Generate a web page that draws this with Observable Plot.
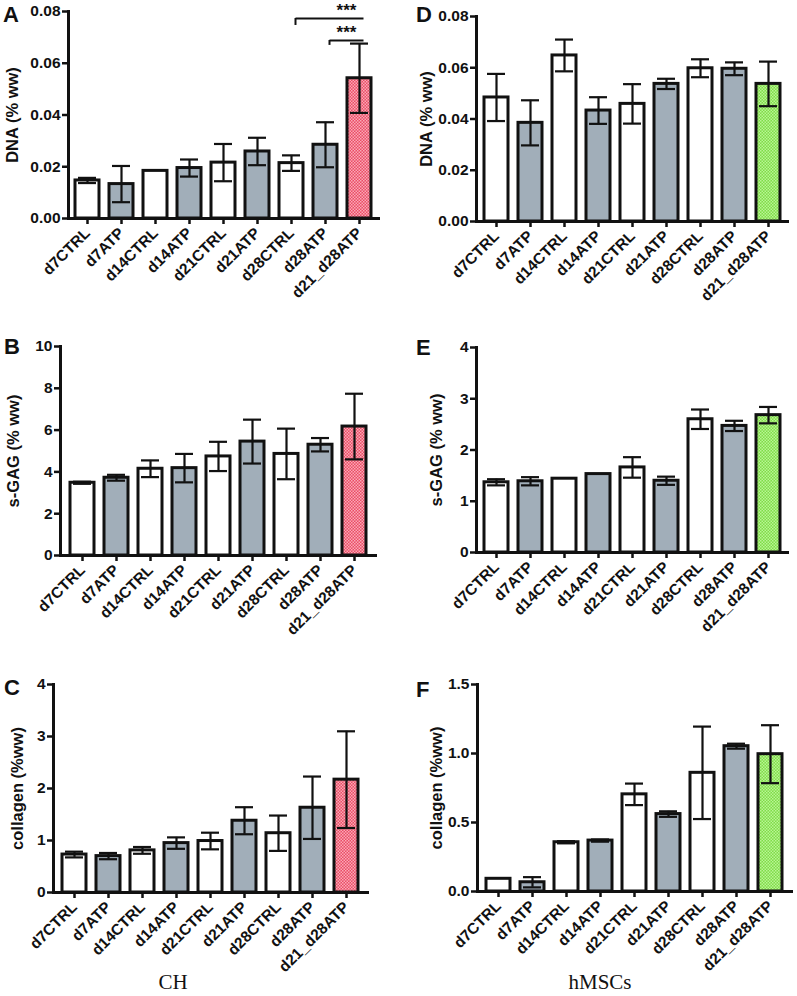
<!DOCTYPE html>
<html><head><meta charset="utf-8">
<script src="https://cdn.jsdelivr.net/npm/d3@7"></script>
<script src="https://cdn.jsdelivr.net/npm/@observablehq/plot@0.6"></script>
<style>
body{margin:0;background:#fff;}
#root{position:relative;width:797px;height:996px;overflow:hidden;font-family:"Liberation Sans",Arial,sans-serif;}
.panel{position:absolute;}
.letter{position:absolute;font-weight:bold;font-size:22px;line-height:1;color:#111;}
.group{position:absolute;font-family:"Liberation Serif","Times New Roman",serif;font-size:21px;color:#111;transform:translateX(-50%);}
</style></head><body><div id="root"></div>
<script>
// ---- data ----
const categories = ["d7CTRL","d7ATP","d14CTRL","d14ATP","d21CTRL","d21ATP","d28CTRL","d28ATP","d21_d28ATP"];
const groupType = ["ctrl","atp","ctrl","atp","ctrl","atp","ctrl","atp","combo"];

const dnaCH     = [0.0147,0.0133,0.0184,0.0195,0.0216,0.0259,0.0214,0.0285,0.0542];
const dnaCHErr  = [0.0010,0.0070,0,0.0033,0.0072,0.0053,0.0030,0.0087,0.0134];
const gagCH     = [3.48,3.72,4.15,4.18,4.74,5.45,4.86,5.30,6.17];
const gagCHErr  = [0.05,0.14,0.40,0.68,0.70,1.05,1.21,0.32,1.57];
const colCH     = [0.73,0.70,0.81,0.95,0.99,1.38,1.14,1.63,2.17];
const colCHErr  = [0.055,0.06,0.065,0.11,0.16,0.26,0.34,0.60,0.93];

const dnaMSC    = [0.0484,0.0385,0.0648,0.0433,0.0459,0.0537,0.0598,0.0596,0.0537];
const dnaMSCErr = [0.0092,0.0088,0.0062,0.0052,0.0077,0.0020,0.0035,0.0025,0.0087];
const gagMSC    = [1.37,1.39,1.44,1.53,1.66,1.40,2.60,2.47,2.68];
const gagMSCErr = [0.06,0.08,0,0,0.20,0.08,0.19,0.10,0.16];
const colMSC    = [0.092,0.067,0.357,0.369,0.704,0.561,0.860,1.053,0.995];
const colMSCErr = [0,0.037,0.008,0.008,0.078,0.020,0.335,0.018,0.21];

const ticksDNA = [0,0.02,0.04,0.06,0.08];
const ticksGagCH = [0,2,4,6,8,10];
const ticksFour = [0,1,2,3,4];
const ticksColMSC = [0,0.5,1.0,1.5];

// significance brackets (panel A)
const sigFrom = ["d28CTRL","d28ATP"];
const sigTo = ["d21_d28ATP","d21_d28ATP"];
const sigLevel = [0.0773,0.0688];
const sigTickEnd = [0.0746,0.0669];
const sigLabelY = [0.0805,0.0720];
const sigLabel = ["***","***"];

// ---- patterns ----
const root = document.getElementById("root");
root.insertAdjacentHTML("beforeend", `
<svg width="0" height="0" style="position:absolute">
 <defs>
  <pattern id="redpat" width="3" height="3" patternUnits="userSpaceOnUse">
   <rect width="3" height="3" fill="#ea4d66"/>
   <rect width="1.5" height="1.5" fill="#fba8b6"/>
   <rect x="1.5" y="1.5" width="1.5" height="1.5" fill="#fba8b6"/>
  </pattern>
  <pattern id="greenpat" width="3" height="3" patternUnits="userSpaceOnUse">
   <rect width="3" height="3" fill="#7fdc48"/>
   <rect width="1.5" height="1.5" fill="#b9f594"/>
   <rect x="1.5" y="1.5" width="1.5" height="1.5" fill="#b9f594"/>
  </pattern>
 </defs>
</svg>`);

function panel(o) {
  const data = categories.map((c,i)=>({cat:c, type:groupType[i], v:o.values[i], e:o.errors[i]}));
  const withErr = data.filter(d=>d.e>0);
  const fillFor = t => t==="ctrl" ? "#ffffff" : t==="atp" ? "#a1aeb9" : `url(#${o.pattern})`;
  const marks = [
    Plot.barY(data, {x:"cat", y:"v", fill:d=>fillFor(d.type), stroke:"#111", strokeWidth:3}),
    Plot.ruleX(withErr, {x:"cat", y1:d=>d.v-d.e, y2:d=>d.v+d.e, stroke:"#111", strokeWidth:2.2}),
    Plot.tickY(withErr, {x:"cat", y:d=>d.v+d.e, stroke:"#111", strokeWidth:2.2, insetLeft:3, insetRight:3}),
    Plot.tickY(withErr, {x:"cat", y:d=>d.v-d.e, stroke:"#111", strokeWidth:2.2, insetLeft:3, insetRight:3}),
    Plot.axisY({ticks:o.ticks, tickFormat:o.fmt, tickSize:6, tickPadding:2, stroke:"#111", strokeWidth:2.5, fontSize:15.5, fontWeight:"bold", label:null}),
    Plot.axisX({tickSize:6, tickPadding:6, tickRotate:-45, stroke:"#111", strokeWidth:2.5, fontSize:15.5, fontWeight:"bold", label:null}),
    Plot.frame({anchor:"left", stroke:"#111", strokeWidth:3}),
    Plot.frame({anchor:"bottom", stroke:"#111", strokeWidth:3}),
    Plot.text([o.label], {frameAnchor:"left", textAnchor:"middle", lineAnchor:"middle", rotate:-90, dx:o.labelDx, text:d=>d, fontSize:16.5, fontWeight:"bold", fill:"#111"})
  ];
  if (o.sig) {
    const sig = sigFrom.map((f,i)=>({from:f, to:sigTo[i], y:sigLevel[i], y0:sigTickEnd[i], ly:sigLabelY[i], label:sigLabel[i]}));
    marks.push(
      Plot.link(sig, {x1:"from", x2:"to", y1:"y", y2:"y", stroke:"#111", strokeWidth:2, dx:4}),
      Plot.ruleX(sig, {x:"from", y1:"y0", y2:"y", stroke:"#111", strokeWidth:2, dx:4}),
      Plot.text(sig, {x:"to", y:"ly", text:"label", dx:-13, fontSize:17, fontWeight:"bold", fill:"#111"})
    );
  }
  const svg = Plot.plot({
    width:o.width, height:o.height,
    marginLeft:o.m[0], marginRight:o.m[1], marginTop:o.m[2], marginBottom:o.m[3],
    x:{domain:categories, paddingInner:0.3, paddingOuter:0.16},
    y:{domain:o.domain},
    color:{type:"identity"},
    style:{fontFamily:"'Liberation Sans', Arial, sans-serif", fontSize:"15px", fontWeight:"bold", color:"#111", background:"transparent", overflow:"visible"},
    marks
  });
  const div = document.createElement("div");
  div.className = "panel";
  div.style.left = o.left + "px"; div.style.top = o.top + "px";
  div.appendChild(svg);
  root.appendChild(div);
  const L = document.createElement("div");
  L.className = "letter"; L.textContent = o.letter;
  L.style.left = o.letterPos[0] + "px"; L.style.top = o.letterPos[1] + "px";
  root.appendChild(L);
}

const f2 = d3.format(".2f"), f1 = d3.format(".1f"), f0 = d3.format("d");

panel({letter:"A", letterPos:[3,4], left:0, top:0, width:400, height:330, m:[68,22,11,112], values:dnaCH, errors:dnaCHErr, domain:[0,0.08], ticks:ticksDNA, fmt:f2, label:"DNA (% ww)", labelDx:-56, pattern:"redpat", sig:true});
panel({letter:"D", letterPos:[416,4], left:400, top:0, width:397, height:330, m:[76,10,16,109], values:dnaMSC, errors:dnaMSCErr, domain:[0,0.08], ticks:ticksDNA, fmt:f2, label:"DNA (% ww)", labelDx:-50, pattern:"greenpat"});
panel({letter:"B", letterPos:[4,336], left:0, top:330, width:400, height:330, m:[60,25,16,105], values:gagCH, errors:gagCHErr, domain:[0,10], ticks:ticksGagCH, fmt:f0, label:"s-GAG (% ww)", labelDx:-47, pattern:"redpat"});
panel({letter:"E", letterPos:[416,337], left:400, top:330, width:397, height:330, m:[76,10,17,108], values:gagMSC, errors:gagMSCErr, domain:[0,4], ticks:ticksFour, fmt:f0, label:"s-GAG (% ww)", labelDx:-40, pattern:"greenpat"});
panel({letter:"C", letterPos:[4,677], left:0, top:660, width:400, height:336, m:[53,33,24,104], values:colCH, errors:colCHErr, domain:[0,4], ticks:ticksFour, fmt:f0, label:"collagen (%ww)", labelDx:-36, pattern:"redpat"});
panel({letter:"F", letterPos:[416,679], left:400, top:660, width:397, height:336, m:[77,6,24,105], values:colMSC, errors:colMSCErr, domain:[0,1.5], ticks:ticksColMSC, fmt:f1, label:"collagen (%ww)", labelDx:-41, pattern:"greenpat"});

root.insertAdjacentHTML("beforeend", `<div class="group" style="left:173px;top:970px">CH</div><div class="group" style="left:600px;top:970px">hMSCs</div>`);
</script>
</body></html>
